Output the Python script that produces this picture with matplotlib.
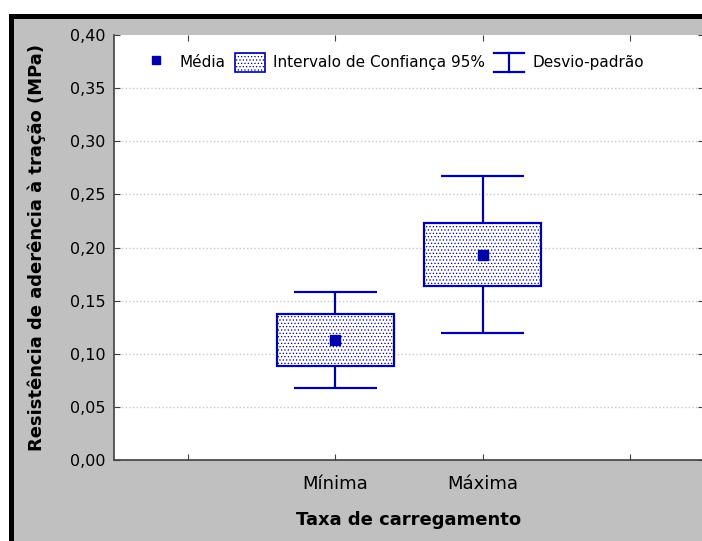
import matplotlib
matplotlib.use("Agg")
import matplotlib.pyplot as plt
from matplotlib.patches import Rectangle, Patch
from matplotlib.lines import Line2D
from matplotlib.legend_handler import HandlerBase

categories = ['Mínima', 'Máxima']
means = [0.113, 0.193]
ci_low = [0.0885, 0.1638]
ci_high = [0.1377, 0.2228]
sd_low = [0.068, 0.1195]
sd_high = [0.158, 0.2676]
yticks = [0.00, 0.05, 0.10, 0.15, 0.20, 0.25, 0.30, 0.35, 0.40]
ytick_labels = ['0,00', '0,05', '0,10', '0,15', '0,20', '0,25', '0,30', '0,35', '0,40']

BLUE = '#0000A8'
W, H = 702, 541
plt.rcParams['hatch.linewidth'] = 0.5
fig = plt.figure(figsize=(W / 100, H / 100), dpi=100)
fig.patch.set_facecolor('white')

# grey framed background
bg = Rectangle((10.5 / W, -0.2), 1.5, (H - 16) / H + 0.2, transform=fig.transFigure,
               facecolor='#C0C0C0', edgecolor='black', linewidth=3.6, zorder=-10)
fig.patches.append(bg)

ax = fig.add_axes([114 / W, (H - 460) / H, 590 / W, 425 / H])
ax.set_facecolor('white')

xpos = [1, 2]
# whiskers
for x, lo, hi in zip(xpos, sd_low, sd_high):
    ax.plot([x, x], [lo, hi], color=BLUE, lw=1.6, zorder=2, solid_capstyle='butt')
    ax.plot([x - 0.28, x + 0.28], [hi, hi], color=BLUE, lw=1.6, zorder=2, solid_capstyle='butt')
    ax.plot([x - 0.28, x + 0.28], [lo, lo], color=BLUE, lw=1.6, zorder=2, solid_capstyle='butt')

heights = [h - l for h, l in zip(ci_high, ci_low)]
ax.bar(xpos, heights, bottom=ci_low, width=0.79, facecolor='white', edgecolor=BLUE,
       linewidth=1.6, hatch='.....', zorder=3)
ax.plot(xpos, means, linestyle='none', marker='s', markersize=6.5, color=BLUE, zorder=4)

ax.set_xlim(-0.5, 3.5)
ax.set_ylim(0, 0.40)
ax.set_xticks([0, 1, 2, 3])
ax.set_xticklabels(['', categories[0], categories[1], ''], fontsize=13)
ax.set_yticks(yticks)
ax.set_yticklabels(ytick_labels, fontsize=11.5)
ax.yaxis.grid(True, color='#C8C8C8', linestyle=':', linewidth=1.0)
ax.yaxis.get_gridlines()[-1].set_visible(False)
ax.set_axisbelow(True)

ax.tick_params(axis='x', direction='in', length=4, color='#404040', pad=11, top=True)
ax.tick_params(axis='y', direction='in', length=4, color='#404040', pad=6, right=True)
for s in ['left', 'bottom']:
    ax.spines[s].set_color('#404040')
    ax.spines[s].set_linewidth(1.2)
ax.spines['top'].set_visible(False)
ax.spines['right'].set_visible(False)

ax.set_xlabel('Taxa de carregamento', fontsize=13, fontweight='bold', labelpad=13)
ax.set_ylabel('Resistência de aderência à tração (MPa)', fontsize=13, fontweight='bold', labelpad=17)


class HandlerSD(HandlerBase):
    def create_artists(self, legend, orig_handle, xdescent, ydescent, width, height, fontsize, trans):
        x0 = -xdescent
        x1 = x0 + width
        xc = (x0 + x1) / 2
        yb = -ydescent
        yt = yb + height
        arts = [Line2D([x0, x1], [yt, yt]), Line2D([xc, xc], [yb, yt]), Line2D([x0, x1], [yb, yb])]
        for a in arts:
            a.set_color(BLUE)
            a.set_linewidth(1.6)
            a.set_transform(trans)
        return arts


class SDHandle:
    pass


h_mean = Line2D([], [], linestyle='none', marker='s', markersize=6, color=BLUE)
h_ci = Patch(facecolor='white', edgecolor=BLUE, hatch='.....', linewidth=1.2)
h_sd = SDHandle()
leg = ax.legend([h_mean, h_ci, h_sd], ['Média', 'Intervalo de Confiança 95%', 'Desvio-padrão'],
                handler_map={SDHandle: HandlerSD()}, ncol=3, frameon=False, fontsize=11,
                loc='center', bbox_to_anchor=(0.472, 0.936), handlelength=2.0, handleheight=1.5,
                handletextpad=0.5, columnspacing=0.6)

fig.savefig('out.png', dpi=100, facecolor=fig.get_facecolor())
